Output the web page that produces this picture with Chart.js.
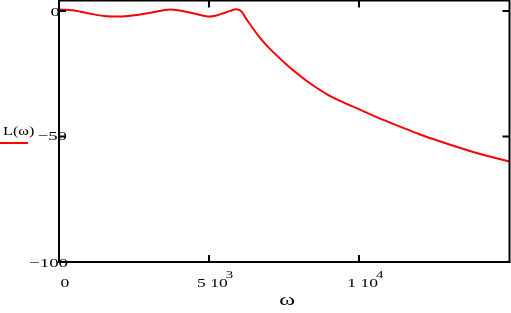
<!DOCTYPE html>
<html><head><meta charset="utf-8">
<script src="https://cdn.jsdelivr.net/npm/chart.js@4/dist/chart.umd.min.js"></script>
<style>html,body{margin:0;padding:0;background:#fff;}canvas{display:block;}</style>
</head><body>
<canvas id="c" width="511" height="313"></canvas>
<script>
const omega = [0,500,1000,1500,2000,2500,3000,3500,3700,4000,4500,5000,5300,5500,5700,5900,6000,6100,6200,6400,6600,6800,7000,7300,7600,8000,8500,9000,9500,10000,10500,11000,11500,12000,12500,13000,13500,14000,14500,15000];
const L = [0.56,0.16,-1.0,-2.0,-2.2,-1.7,-0.8,0.3,0.56,0.16,-1.0,-2.2,-1.6,-0.8,0.0,0.7,0.4,-0.6,-2.5,-6.0,-9.3,-12.2,-14.8,-18.3,-21.6,-25.6,-30.0,-33.7,-36.6,-39.2,-41.9,-44.4,-46.8,-49.1,-51.2,-53.2,-55.1,-56.9,-58.5,-60.0];
const xTicks = [0,5000,10000];
const xTickMant = ['0','5 10','1 10'];
const xTickExp = ['','3','4'];
const yTicks = [0,-50,-100];
const yTickLabels = ['0','\u221250','\u2212100'];
const xTitle = '\u03c9';
const seriesName = 'L(\u03c9)';

function stretchText(ctx, txt, x, y, align, font, sx) {
  ctx.save();
  ctx.font = font;
  const w = ctx.measureText(txt).width * sx;
  let left = x;
  if (align === 'center') left = x - w/2;
  else if (align === 'right') left = x - w;
  ctx.translate(left, y);
  ctx.scale(sx, 1);
  ctx.textAlign = 'left';
  ctx.fillText(txt, 0, 0);
  ctx.restore();
  return w;
}

const framePlugin = {
  id: 'frame',
  afterDraw(chart) {
    const ctx = chart.ctx, a = chart.chartArea;
    const xs = chart.scales.x, ys = chart.scales.y;
    ctx.save();
    ctx.strokeStyle = '#000';
    ctx.lineWidth = 2;
    ctx.strokeRect(a.left, a.top, a.right - a.left, a.bottom - a.top);
    ctx.beginPath();
    xTicks.forEach(v => {
      const px = Math.round(xs.getPixelForValue(v));
      if (v > xs.min && v < xs.max) {
        ctx.moveTo(px, a.top); ctx.lineTo(px, a.top + 7);
        ctx.moveTo(px, a.bottom); ctx.lineTo(px, a.bottom - 7);
      }
    });
    yTicks.forEach(v => {
      const py = ys.getPixelForValue(v);
      if (v > ys.min && v < ys.max) {
        ctx.moveTo(a.left, py); ctx.lineTo(a.left + 7, py);
        ctx.moveTo(a.right, py); ctx.lineTo(a.right - 7, py);
      }
    });
    ctx.stroke();
    ctx.fillStyle = '#000';
    const fam = '"Liberation Serif", "Times New Roman", serif';
    const f = '13px ' + fam;
    const fs = '11px ' + fam;
    ctx.textBaseline = 'middle';
    const yOff = [1, 8, 9];
    yTicks.forEach((v, i) => {
      const py = ys.getPixelForValue(v) + (i === 1 ? 0 : 2);
      stretchText(ctx, yTickLabels[i], a.left + yOff[i], py, 'right', f, 1.45);
    });
    xTicks.forEach((v, i) => {
      const px = xs.getPixelForValue(v) + 6;
      const sx = 1.35;
      ctx.font = f;
      const wm = ctx.measureText(xTickMant[i]).width * sx;
      ctx.font = fs;
      const we = xTickExp[i] ? ctx.measureText(xTickExp[i]).width * sx : 0;
      const total = wm + we - (we ? 2 : 0);
      const left = px - total/2;
      stretchText(ctx, xTickMant[i], left, 284, 'left', f, sx);
      if (xTickExp[i]) stretchText(ctx, xTickExp[i], left + wm - 2, 275, 'left', fs, sx);
    });
    stretchText(ctx, xTitle, (a.left + a.right)/2 + 3, 301, 'center', '16px ' + fam, 1.5);
    stretchText(ctx, seriesName, 3, 132, 'left', '12px ' + fam, 1.35);
    ctx.strokeStyle = '#ff0000';
    ctx.lineWidth = 2;
    ctx.beginPath(); ctx.moveTo(0, 143); ctx.lineTo(28, 143); ctx.stroke();
    ctx.restore();
  }
};

new Chart(document.getElementById('c'), {
  type: 'line',
  data: {
    datasets: [{
      label: seriesName,
      data: omega.map((w, i) => ({x: w, y: L[i]})),
      borderColor: '#ff0000',
      borderWidth: 2,
      pointRadius: 0,
      cubicInterpolationMode: 'monotone',
      fill: false
    }]
  },
  options: {
    responsive: false,
    animation: false,
    devicePixelRatio: 1,
    layout: { padding: { left: 59, right: 1.5, top: 0.5, bottom: 51 } },
    plugins: { legend: { display: false }, tooltip: { enabled: false } },
    scales: {
      x: { type: 'linear', min: 0, max: 15000, display: false },
      y: { type: 'linear', min: -100, max: 4.15, display: false }
    }
  },
  plugins: [framePlugin]
});
</script>
</body></html>
